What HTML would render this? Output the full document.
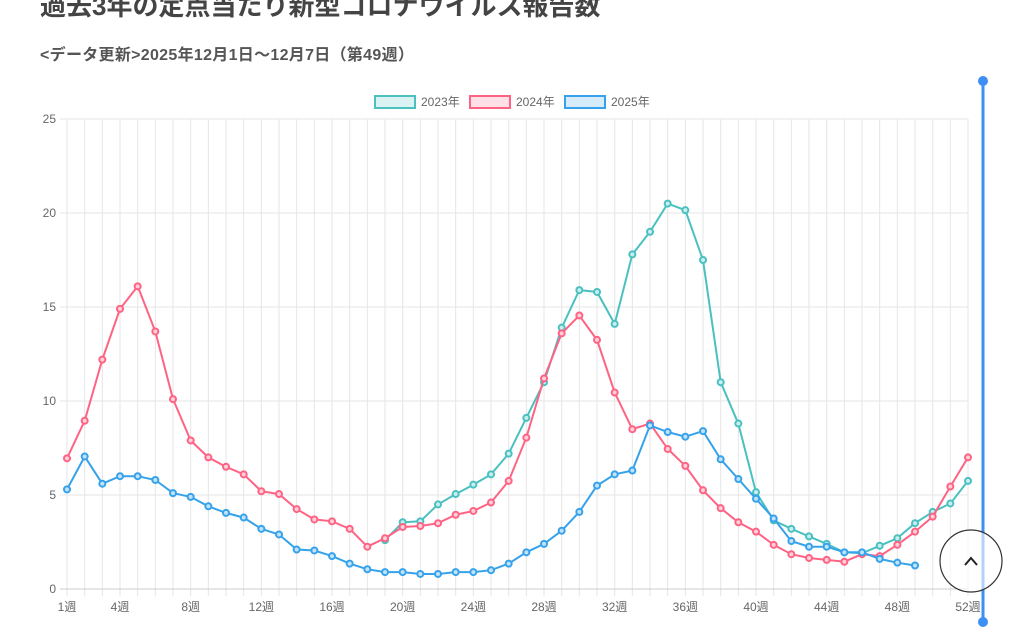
<!DOCTYPE html>
<html><head><meta charset="utf-8"><style>
body{margin:0;width:1024px;height:633px;overflow:hidden;background:#fff;font-family:"Liberation Sans","Noto Sans CJK JP",sans-serif;}
.t{position:absolute;left:40px;top:-14px;font-size:26px;font-weight:bold;color:#444;white-space:nowrap}
.s{position:absolute;left:40px;top:41px;font-size:16px;font-weight:bold;color:#555;white-space:nowrap;letter-spacing:0.3px}
</style></head><body>
<div class="t">過去3年の定点当たり新型コロナウイルス報告数</div>
<div class="s">&lt;データ更新&gt;2025年12月1日〜12月7日（第49週）</div>
<svg id="c" width="1024" height="633" style="position:absolute;left:0;top:0" font-family="Liberation Sans, Noto Sans CJK JP, sans-serif"></svg>
<script>
const svg=document.getElementById('c');let h='';
const X=i=>67+(i-1)*17.667, Y=v=>589-v*18.8;
for(let i=1;i<=52;i++){h+=`<line x1="${X(i)}" y1="119" x2="${X(i)}" y2="596" stroke="#e6e6e6"/>`;}
for(let v=0;v<=25;v+=5){h+=`<line x1="60" y1="${Y(v)}" x2="968" y2="${Y(v)}" stroke="${v==0?'#ccc':'#e6e6e6'}"/><text x="56" y="${Y(v)+4}" font-size="12" fill="#666" text-anchor="end">${v}</text>`;}
[1,4,8,12,16,20,24,28,32,36,40,44,48,52].forEach(w=>{h+=`<text x="${X(w)}" y="611" font-size="12" fill="#666" text-anchor="middle">${w}週</text>`;});
const d25=[5.3,7.05,5.6,6.0,6.0,5.8,5.1,4.9,4.4,4.05,3.8,3.2,2.9,2.1,2.05,1.75,1.35,1.05,0.9,0.9,0.8,0.8,0.9,0.9,1.0,1.35,1.95,2.4,3.1,4.1,5.5,6.1,6.3,8.7,8.35,8.1,8.4,6.9,5.85,4.8,3.75,2.55,2.25,2.25,1.95,1.95,1.6,1.4,1.25];
const d24=[6.95,8.95,12.2,14.9,16.1,13.7,10.1,7.9,7.0,6.5,6.1,5.2,5.05,4.25,3.7,3.6,3.2,2.25,2.7,3.3,3.35,3.5,3.95,4.15,4.6,5.75,8.05,11.2,13.6,14.55,13.25,10.45,8.5,8.8,7.45,6.55,5.25,4.3,3.55,3.05,2.35,1.85,1.65,1.55,1.45,1.85,1.75,2.35,3.05,3.85,5.45,7.0];
const d23=[2.6,3.55,3.6,4.5,5.05,5.55,6.1,7.2,9.1,11.0,13.9,15.9,15.8,14.1,17.8,19.0,20.5,20.15,17.5,11.0,8.8,5.15,3.65,3.2,2.8,2.4,1.95,1.9,2.3,2.7,3.5,4.1,4.55,5.75];
function ser(d,s,c,f){let p=d.map((v,k)=>`${X(k+s).toFixed(1)},${Y(v).toFixed(1)}`).join(' ');
h+=`<polyline points="${p}" fill="none" stroke="${c}" stroke-width="2"/>`;
d.forEach((v,k)=>{h+=`<circle cx="${X(k+s)}" cy="${Y(v)}" r="3" fill="${f}" stroke="${c}" stroke-width="2"/>`;});}
ser(d23,19,'#4bc0c0','#c9eeee');ser(d24,1,'#ff6384','#ffd0da');ser(d25,1,'#36a2eb','#c2e2f8');
[[375,'#4bc0c0','#dbf2f2','2023年'],[470,'#ff6384','#ffe0e6','2024年'],[565,'#36a2eb','#d7ecfb','2025年']].forEach(a=>{
h+=`<rect x="${a[0]}" y="96" width="40" height="12" fill="${a[2]}" stroke="${a[1]}" stroke-width="2"/><text x="${a[0]+46}" y="106" font-size="12" fill="#666">${a[3]}</text>`;});
h+=`<line x1="983" y1="81" x2="983" y2="622" stroke="#3d8ff5" stroke-width="3"/><circle cx="983" cy="81" r="5" fill="#3d8ff5"/><circle cx="983" cy="622" r="5" fill="#3d8ff5"/>`;
h+=`<circle cx="971" cy="561" r="31" fill="#fff" fill-opacity="0.6" stroke="#333" stroke-width="1.2"/><polyline points="965,565 971,558 977,565" fill="none" stroke="#222" stroke-width="2"/>`;
svg.innerHTML=h;
</script>
</body></html>
